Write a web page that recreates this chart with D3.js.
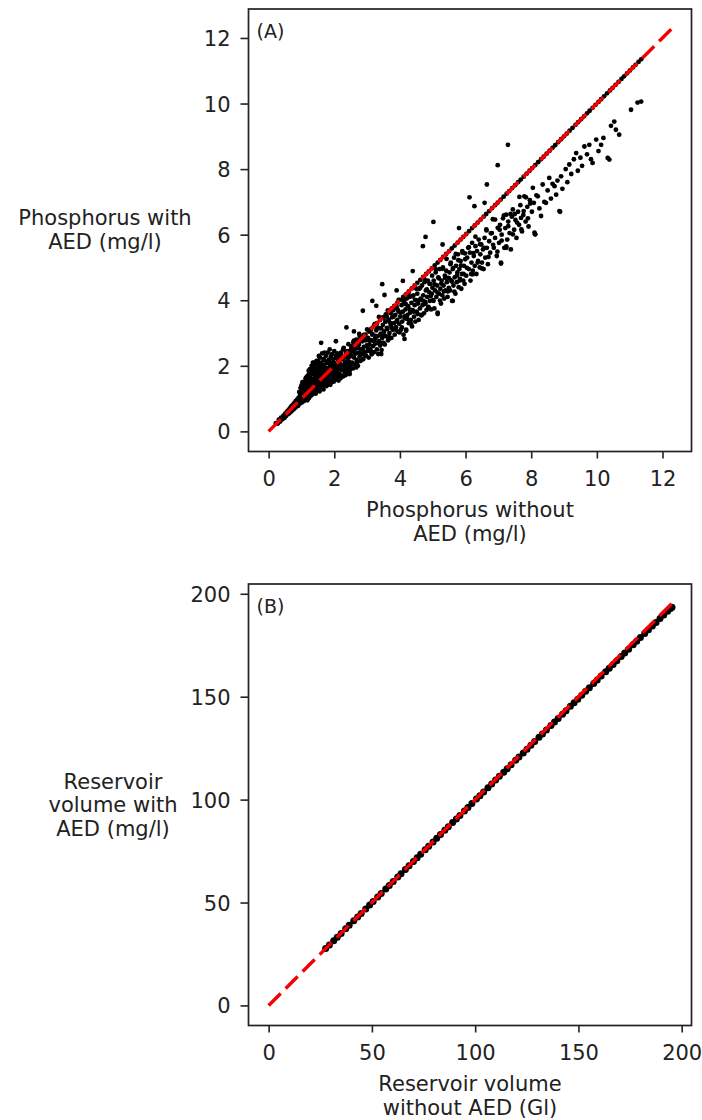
<!DOCTYPE html>
<html lang="en">
<head>
	<meta charset="utf-8" />
	<title>AED comparison</title>
	<script src="https://d3js.org/d3.v7.min.js"></script>
	<style>
	body { margin: 0; background: white; }
	svg text { font-family: "DejaVu Sans", sans-serif; fill: #222; }
	.tick line { stroke: #222; stroke-width: 1.6px; }
	.tick text { font-size: 21px; }
	.label { font-size: 21px; }
	.panel-tag { font-size: 19px; }
	</style>
</head>
<body>
<svg width="702" height="1120"></svg>
<script>

//	panel A : phosphorus, points as [without AED, with AED]
var phosNearOrigin = [[0.22,0.25],[0.28,0.24],[0.31,0.36],[0.35,0.30],[0.38,0.42],[0.42,0.37],[0.45,0.48],[0.48,0.41],[0.51,0.55],[0.53,0.47],[0.56,0.6],[0.58,0.52],[0.61,0.66],[0.63,0.55],[0.66,0.72],[0.68,0.6],[0.7,0.78],[0.72,0.64],[0.75,0.82],[0.77,0.68],[0.79,0.88],[0.81,0.72],[0.83,0.93],[0.85,0.76],[0.87,0.97],[0.89,0.8]];

var phosCluster = [[0.9,0.78],[0.91,1.02],[0.92,0.9],[0.93,1.2],[0.95,0.85],[0.96,1.1],[0.97,1.32],[0.98,0.95],[1.0,1.05],[1.0,1.4],[1.01,0.88],[1.02,1.22],[1.03,1.5],[1.04,0.98],[1.05,1.15],[1.06,1.35],[1.07,0.92],[1.08,1.08],[1.09,1.28],[1.1,1.0],
	[1.11,1.45],[1.12,1.15],[1.12,0.98],[1.13,1.62],[1.14,1.3],[1.15,1.05],[1.15,1.65],[1.16,1.2],[1.17,1.52],[1.18,0.95],[1.18,1.38],[1.19,1.7],[1.2,1.1],[1.2,1.68],[1.21,1.26],[1.22,1.85],[1.23,1.45],[1.23,1.02],[1.24,1.75],[1.25,1.18],[1.26,1.58],[1.26,1.9],[1.27,1.32],[1.28,1.72],[1.28,1.08],[1.29,1.8],[1.3,1.42],[1.3,1.22],
	[1.31,2.0],[1.32,1.6],[1.32,1.12],[1.33,1.85],[1.34,1.35],[1.35,2.1],[1.35,1.5],[1.36,1.2],[1.37,1.75],[1.38,2.1],[1.38,1.4],[1.39,1.95],[1.4,1.28],[1.4,1.62],[1.41,2.05],[1.42,1.48],[1.43,1.82],[1.43,1.18],[1.44,2.05],[1.45,1.55],[1.46,1.35],[1.46,2.15],[1.47,1.7],[1.48,1.25],[1.48,1.92],[1.49,1.45],[1.5,2.15],[1.5,1.6],
	[1.51,1.3],[1.52,1.85],[1.53,2.3],[1.54,1.5],[1.55,1.98],[1.55,1.22],[1.56,1.68],[1.57,2.25],[1.58,1.4],[1.59,1.8],[1.6,2.1],[1.6,1.55],[1.61,1.32],[1.62,1.92],[1.63,2.38],[1.64,1.62],[1.65,1.45],[1.65,2.02],[1.66,1.75],[1.67,1.28],[1.68,2.2],[1.68,1.58],[1.69,1.88],[1.7,1.42],[1.7,2.4],[1.7,1.7],
	[1.72,1.95],[1.73,1.5],[1.74,2.3],[1.75,1.65],[1.76,1.38],[1.77,2.08],[1.78,1.8],[1.79,1.55],[1.8,2.4],[1.8,1.45],[1.81,1.92],[1.82,1.68],[1.83,2.18],[1.84,1.5],[1.85,1.82],[1.86,2.5],[1.86,1.6],[1.87,2.0],[1.88,1.42],[1.88,1.75],[1.89,2.28],[1.9,1.58],[1.9,1.88],[1.9,2.1],
	[1.92,1.5],[1.93,2.35],[1.94,1.72],[1.95,1.95],[1.96,1.6],[1.97,2.2],[1.98,1.8],[1.99,1.52],[2.0,2.05],[2.0,2.45],[2.01,1.68],[2.02,1.9],[2.04,1.58],[2.05,2.25],[2.06,1.78],[2.07,2.0],[2.08,1.62],[2.09,2.38],[2.1,1.85],[2.11,1.7],[2.12,2.12],[2.13,1.55],[2.14,1.95],[2.15,2.3],
	[2.16,1.75],[2.18,2.05],[2.19,1.62],[2.2,2.4],[2.22,1.88],[2.23,1.7],[2.25,2.2],[2.26,1.95],[2.28,1.68],[2.29,2.55],[2.3,2.02],[2.32,1.8],[2.33,2.3],[2.35,1.72],[2.36,2.12],[2.38,1.9],[2.4,2.45],[2.41,2.0],[2.43,1.78],[2.44,2.25],[2.46,2.08],[2.47,1.85],[2.49,2.35],[2.5,1.95]];

var phosClusterFill = [[0.96,1.09],[0.99,0.95],[1.01,1.33],[1.04,1.08],[1.07,1.31],[1.09,0.96],[1.12,1.55],[1.15,1.26],[1.17,1.47],[1.2,1.16],[1.22,1.42],[1.25,1.7],[1.28,1.14],[1.3,1.54],[1.33,1.39],[1.35,1.9],[1.38,1.35],[1.4,1.79],[1.43,1.15],[1.46,1.61],
	[1.48,1.8],[1.51,1.38],[1.54,2.05],[1.56,1.57],[1.59,1.78],[1.61,1.35],[1.64,2.01],[1.67,1.68],[1.69,2.17],[1.72,1.57],[1.74,1.91],[1.77,1.42],[1.8,1.81],[1.82,2.14],[1.85,1.57],[1.87,2.08],[1.9,1.75],[1.93,2.35],[1.95,1.7],[1.98,1.98],
	[2.01,2.09],[2.03,1.66],[2.06,2.31],[2.09,1.97],[2.11,2.21],[2.14,1.62],[2.16,2.08],[2.19,2.35],[2.22,1.92],[2.24,2.21],[2.27,2.5],[2.3,1.89],[2.32,2.08],[2.35,2.42],[2.37,1.85],[2.4,2.23],[2.43,2.66],[2.45,2.12],[2.48,2.44],[2.5,1.97]];

var phosBandLow = [[2.51,2.3],[2.52,2.6],[2.54,2.1],[2.55,2.45],[2.57,1.92],[2.58,2.72],[2.6,2.25],[2.62,2.5],[2.63,2.05],[2.65,2.38],[2.67,2.8],[2.68,2.18],[2.7,2.55],[2.72,2.0],[2.73,2.4],[2.75,2.65],[2.77,2.28],[2.78,2.9],[2.8,2.15],[2.82,2.5],[2.84,2.35],[2.86,2.75],[2.88,2.2],[2.9,2.58],[2.92,2.42],[2.95,2.85],[2.97,2.3],[2.99,2.62],
	[3.01,2.45],[3.03,2.85],[3.05,2.25],[3.07,2.65],[3.08,3.05],[3.1,2.5],[3.12,2.78],[3.14,2.35],[3.16,2.95],[3.18,2.6],[3.2,3.2],[3.22,2.42],[3.24,2.82],[3.26,2.68],[3.28,3.08],[3.3,2.5],[3.32,2.9],[3.34,2.36],[3.36,2.75],[3.38,3.15],[3.4,2.62],[3.42,2.98],[3.44,2.48],[3.46,2.85],[3.48,3.25],[3.5,2.7],
	[3.52,3.05],[3.54,2.65],[3.56,3.35],[3.58,2.9],[3.6,3.5],[3.62,3.12],[3.64,2.78],[3.66,3.4],[3.68,3.0],[3.7,3.62],[3.72,3.22],[3.74,2.85],[3.76,3.48],[3.78,3.1],[3.8,3.7],[3.82,3.3],[3.84,2.95],[3.86,3.55],[3.88,3.18],[3.9,3.8],[3.92,3.4],[3.94,3.05],[3.96,3.65],[3.98,3.28],
	[4.01,3.5],[4.03,3.1],[4.05,3.85],[4.07,3.35],[4.09,3.65],[4.11,2.95],[4.13,3.95],[4.15,3.45],[4.17,3.72],[4.19,3.1],[4.21,4.05],[4.23,3.55],[4.25,3.82],[4.27,3.3],[4.29,4.1],[4.31,3.62],[4.33,3.4],[4.35,3.92],[4.37,3.2],[4.39,3.7],[4.41,4.15],[4.43,3.5],[4.45,3.85],[4.47,3.35],[4.49,4.0],
	[4.51,3.65],[4.53,4.2],[4.55,3.9],[4.57,3.4],[4.59,4.35],[4.61,3.75],[4.63,4.05],[4.65,3.55],[4.67,4.45],[4.69,3.85],[4.71,4.15],[4.73,3.6],[4.75,4.55],[4.77,3.95],[4.79,4.3],[4.81,3.7],[4.83,4.1],[4.85,4.6],[4.87,3.8],[4.89,4.25],[4.91,3.98],[4.93,4.5],[4.95,3.72],[4.97,4.2],[4.99,4.38],
	[5.01,4.0],[5.03,4.6],[5.05,3.75],[5.07,4.3],[5.09,4.85],[5.11,4.1],[5.13,4.45],[5.15,3.62],[5.17,4.7],[5.19,4.2],[5.21,4.95],[5.23,4.35],[5.25,3.9],[5.27,4.6],[5.29,4.15],[5.31,5.0],[5.33,4.45],[5.35,4.05],[5.37,4.75],[5.39,4.3],[5.41,4.9],[5.43,4.55],[5.45,4.1],[5.47,4.68],[5.49,4.38],
	[5.51,4.85],[5.53,4.3],[5.55,5.15],[5.57,4.6],[5.59,3.98],[5.61,4.95],[5.63,4.45],[5.65,5.3],[5.67,4.7],[5.69,4.2],[5.71,5.05],[5.73,4.55],[5.75,4.85],[5.77,5.4],[5.79,4.4],[5.81,4.95],[5.83,4.65],[5.85,5.2],[5.87,4.35],[5.89,4.8],[5.91,5.45],[5.93,4.6],[5.95,5.05],[5.97,4.5],[5.99,5.25]];

var phosBandFill = [[2.53,2.48],[2.56,2.08],[2.6,2.77],[2.63,2.37],[2.66,2.69],[2.7,2.1],[2.73,2.55],[2.76,2.97],[2.8,2.39],[2.83,2.76],[2.86,2.5],[2.9,2.94],[2.93,2.33],[2.96,2.78],[3.0,3.11],
	[3.03,2.52],[3.06,2.78],[3.1,3.08],[3.13,2.41],[3.16,2.97],[3.2,2.75],[3.23,3.27],[3.26,2.91],[3.3,3.18],[3.33,2.7],[3.36,3.49],[3.4,2.95],[3.43,3.14],[3.46,2.7],[3.5,3.47],
	[3.53,2.93],[3.56,3.35],[3.6,3.16],[3.63,3.69],[3.66,2.88],[3.7,3.31],[3.73,3.6],[3.76,3.15],[3.8,3.5],[3.83,3.81],[3.86,3.11],[3.9,3.36],[3.93,3.71],[3.96,4.01],[3.99,3.02],
	[4.02,3.62],[4.06,3.17],[4.1,3.99],[4.14,3.51],[4.18,3.88],[4.22,3.43],[4.26,4.19],[4.3,3.72],[4.34,3.28],[4.38,4.12],[4.42,3.65],[4.46,4.01],[4.5,4.35],[4.54,3.58],[4.58,3.99],
	[4.62,4.38],[4.66,3.54],[4.7,3.99],[4.74,4.66],[4.78,3.89],[4.82,4.33],[4.86,3.77],[4.9,4.5],[4.94,4.13],[4.98,4.75],[5.02,3.98],[5.06,4.48],[5.1,4.94],[5.14,4.24],[5.18,4.67],
	[5.22,3.99],[5.26,4.51],[5.3,4.96],[5.34,4.27],[5.38,4.68],[5.42,5.26],[5.46,4.27],[5.5,4.67],[5.54,5.1],[5.58,4.57],[5.62,4.98],[5.66,4.26],[5.7,5.41],[5.74,4.76],[5.78,5.22],
	[5.82,4.6],[5.86,5.06],[5.9,5.5],[5.94,4.8],[5.98,5.43]];

var phosBandMid = [[6.02,4.75],[6.05,5.3],[6.08,5.6],[6.1,4.95],[6.13,5.45],[6.15,4.6],[6.18,5.15],[6.2,5.75],[6.22,4.9],[6.25,5.35],[6.28,5.05],[6.3,5.65],[6.33,4.8],[6.35,5.5],[6.38,5.2],[6.4,5.85],[6.43,5.0],[6.45,5.4],[6.48,5.7],[6.5,5.15],[6.53,5.55],[6.55,4.95],[6.58,5.9],[6.6,5.3],[6.63,6.16],[6.65,5.6],[6.68,5.1],[6.72,5.8],[6.75,5.45],[6.8,6.05],[6.83,6.47],[6.86,5.6],[6.9,5.9],[6.95,5.35],[6.98,6.21],
	[7.02,5.75],[7.05,6.3],[7.08,5.12],[7.1,6.0],[7.14,6.5],[7.18,5.6],[7.21,6.2],[7.24,6.61],[7.27,5.85],[7.3,6.4],[7.34,6.05],[7.38,5.55],[7.41,6.55],[7.44,6.77],[7.48,6.15],[7.52,6.45],[7.55,5.9],[7.6,6.7],[7.63,6.3],[7.67,6.9],[7.69,6.51],[7.72,6.1],[7.76,6.6],[7.79,7.17],[7.83,6.4],[7.88,6.85],[7.92,6.25],[7.96,7.05],
	[8.02,6.7],[8.05,7.43],[8.08,6.97],[8.1,6.06],[8.12,6.01],[8.16,7.2],[8.2,7.17],[8.25,6.8],[8.3,6.57],[8.35,7.53],[8.4,7.0],[8.45,6.97],[8.5,7.35],[8.55,7.73],[8.6,7.1],[8.65,7.55],[8.71,7.48],[8.76,7.22],[8.8,7.65],[8.86,6.72],[8.88,6.7],[8.91,7.78],[8.95,7.4]];

var phosMidFill = [[6.04,4.99],[6.1,5.62],[6.17,4.8],[6.24,5.44],[6.3,5.94],[6.37,5.15],[6.44,5.71],[6.5,4.97],[6.57,5.6],[6.64,6.13],[6.7,5.32],[6.77,6.04],[6.84,5.69],[6.9,6.46],[6.97,5.48],
	[7.04,6.15],[7.1,5.82],[7.17,6.59],[7.24,5.64],[7.3,6.26],[7.37,6.63],[7.44,6.01],[7.5,6.63],[7.57,6.37],[7.64,7.15],[7.7,6.16],[7.77,6.72],[7.84,7.14],[7.9,6.5],[7.97,6.95]];

var phosBandHigh = [[9.05,8.0],[9.1,7.6],[9.16,8.14],[9.22,7.85],[9.3,8.3],[9.37,8.49],[9.42,7.95],[9.5,8.35],[9.55,8.1],[9.62,8.69],[9.7,8.45],[9.77,8.74],[9.82,8.3],[9.87,8.19],[9.98,8.9],[10.05,8.55],[10.13,8.74],[10.2,8.95],[10.33,8.34],[10.38,8.29],[10.43,9.32],[10.53,9.45],[10.58,9.2],[10.68,9.05],[11.04,9.81],[11.24,10.03],[11.35,10.06]];

//	scattered points well above / well below the main band
var phosAbove = [[1.6,2.7],[2.05,2.75],[2.37,3.17],[2.6,3.05],[2.87,3.68],[3.16,3.98],[3.28,3.83],[3.46,4.49],[3.53,4.16],[3.9,4.3],[4.09,4.59],[4.39,4.89],[4.7,5.65],[4.78,5.93],[5.02,6.39],[5.3,5.7],[5.8,6.2],[6.12,7.14],[6.27,6.87],[6.58,6.97],[6.65,7.53],[6.98,8.12],[7.29,8.74]];
var phosBelow = [[2.47,1.75],[2.67,1.95],[3.43,2.36],[4.14,2.82],[4.19,3.07],[5.15,3.58],[5.61,3.98],[6.22,4.79],[7.08,5.15],[7.24,5.6],[8.12,6.01]];

//	sites where the value is the same with and without AED (lie on the 1:1 line)
var phosOnLine = [0.25,0.37,0.49,0.6,0.72,0.84,0.95,1.07,1.19,1.3,1.42,1.54,1.66,1.77,1.89,2.01,2.12,2.24,2.36,2.45,
	2.52,2.6,2.7,2.78,2.87,2.95,3.05,3.13,3.22,3.3,3.4,3.48,3.57,3.66,3.75,3.83,3.92,4.01,4.1,4.18,4.27,4.36,4.45,4.53,4.62,4.71,4.8,4.88,4.97,5.06,5.15,5.23,5.32,5.41,5.5,5.58,5.67,5.76,5.85,5.93,
	6.02,6.11,6.2,6.28,6.37,6.46,6.55,6.63,6.72,6.81,6.9,6.98,7.07,7.16,7.25,7.33,7.42,7.51,7.6,7.68,7.77,7.86,7.95,8.03,8.12,8.21,8.3,8.38,8.47,8.56,8.65,8.73,8.82,8.91,9.0,9.08,9.17,9.26,9.35,9.43,
	9.52,9.61,9.7,9.78,9.87,9.96,10.05,10.13,10.22,10.31,10.4,10.48,10.57,10.66,10.75,10.83,10.92,11.01,11.1,11.18,11.27,11.35];

var phosTicks = [0, 2, 4, 6, 8, 10, 12];
var phosRefEnd = 12.27;

//	panel B : reservoir volume
var resX = [27.6,29.4,31.5,33.2,35.1,37.3,39.0,41.2,43.1,44.8,47.0,48.9,50.6,52.8,54.5,56.7,58.4,60.3,62.5,64.1,66.2,68.0,70.1,71.9,73.6,75.8,77.5,79.6,81.4,83.2,85.3,87.0,89.1,90.9,92.6,94.8,96.5,98.4,100.6,102.3,104.1,106.2,108.0,109.9,111.7,113.8,115.5,117.4,119.6,121.2,123.3,125.1,127.0,128.8,130.9,132.6,134.5,136.7,138.4,140.2,142.3,144.0,146.1,147.9,149.7,151.6,153.5,155.3,157.4,159.1,161.0,163.2,164.9,166.8,168.6,170.7,172.4,174.3,176.5,178.2,180.0,182.1,183.9,185.8,187.6,189.5,191.3,193.2,194.6,195.3];
var resY = [27.6,29.3,31.4,33.1,35.0,37.2,38.9,41.1,43.0,44.7,46.9,48.8,50.5,52.7,54.4,56.6,58.3,60.2,62.4,64.0,66.1,67.9,69.9,71.7,73.4,75.6,77.3,79.4,81.2,83.0,85.1,86.8,88.9,90.6,92.3,94.5,96.2,98.1,100.3,101.9,103.7,105.8,107.6,109.5,111.3,113.3,115.0,116.9,119.1,120.7,122.7,124.5,126.4,128.2,130.3,131.9,133.8,136.0,137.7,139.4,141.5,143.2,145.3,147.0,148.8,150.7,152.6,154.3,156.4,158.1,160.0,162.1,163.8,165.7,167.5,169.5,171.2,173.1,175.2,176.9,178.7,180.7,182.5,184.3,186.1,188.0,189.7,191.5,192.8,193.4];
var resTicks = [0, 50, 100, 150, 200];
var resRefEnd = 195.2;

var svg = d3.select("svg");

//	one panel: frame, axes, points, 1:1 dashed line
function drawPanel(o) {
	var x = d3.scaleLinear().domain(o.domain).range([o.left, o.right]);
	var y = d3.scaleLinear().domain(o.domain).range([o.bottom, o.top]);
	var g = svg.append("g");

	g.append("g")
		.attr("transform", "translate(0," + o.bottom + ")")
		.call(d3.axisBottom(x).tickValues(o.ticks).tickSize(7).tickPadding(13))
		.call(function(a) { a.select(".domain").remove(); });

	g.append("g")
		.attr("transform", "translate(" + o.left + ",0)")
		.call(d3.axisLeft(y).tickValues(o.ticks).tickSize(8).tickPadding(10))
		.call(function(a) { a.select(".domain").remove(); })
		.selectAll(".tick text").attr("dy", "0.36em");

	g.append("g").selectAll("circle")
		.data(o.points)
		.enter().append("circle")
		.attr("cx", function(d) { return x(d[0]); })
		.attr("cy", function(d) { return y(d[1]); })
		.attr("r", o.r)
		.attr("fill", "black");

	g.append("line")
		.attr("x1", x(0)).attr("y1", y(0))
		.attr("x2", x(o.refEnd)).attr("y2", y(o.refEnd))
		.attr("stroke", "#f40000")
		.attr("stroke-width", 3.4)
		.attr("stroke-dasharray", "17,7");

	g.append("rect")
		.attr("x", o.left).attr("y", o.top)
		.attr("width", o.right - o.left).attr("height", o.bottom - o.top)
		.attr("fill", "none")
		.attr("stroke", "#222")
		.attr("stroke-width", 1.7);

	g.append("text")
		.attr("class", "panel-tag")
		.attr("x", o.left + 8).attr("y", o.top + 29)
		.text(o.tag);

	var cx = (o.left + o.right) / 2;
	g.append("text").attr("class", "label")
		.attr("text-anchor", "middle")
		.selectAll("tspan").data(o.xLabel).enter().append("tspan")
		.attr("x", cx)
		.attr("y", function(d, i) { return o.bottom + 65 + i * 24; })
		.text(function(d) { return d; });

	var n = o.yLabel.length;
	g.append("text").attr("class", "label")
		.attr("text-anchor", "middle")
		.selectAll("tspan").data(o.yLabel).enter().append("tspan")
		.attr("x", o.yLabelX)
		.attr("y", function(d, i) { return o.yLabelMid + 7 + (i - (n - 1) / 2) * 23.5; })
		.text(function(d) { return d; });
}

var phosPoints = []
	.concat(phosOnLine.map(function(v) { return [v, v]; }))
	.concat(phosNearOrigin, phosCluster, phosClusterFill, phosBandLow, phosBandFill,
		phosBandMid, phosMidFill, phosBandHigh, phosAbove, phosBelow);

drawPanel({
	domain: [-0.6135, 12.8835],
	left: 248.5, right: 691.5, top: 9, bottom: 451.5,
	ticks: phosTicks,
	points: phosPoints,
	r: 2.4,
	refEnd: phosRefEnd,
	tag: "(A)",
	xLabel: ["Phosphorus without", "AED (mg/l)"],
	yLabel: ["Phosphorus with", "AED (mg/l)"],
	yLabelX: 105, yLabelMid: 230
});

drawPanel({
	domain: [-9.75, 204.75],
	left: 248.5, right: 691.5, top: 584, bottom: 1025.5,
	ticks: resTicks,
	points: resX.map(function(v, i) { return [v, resY[i]]; }),
	r: 3.5,
	refEnd: resRefEnd,
	tag: "(B)",
	xLabel: ["Reservoir volume", "without AED (Gl)"],
	yLabel: ["Reservoir", "volume with", "AED (mg/l)"],
	yLabelX: 113, yLabelMid: 805
});

</script>
</body>
</html>
